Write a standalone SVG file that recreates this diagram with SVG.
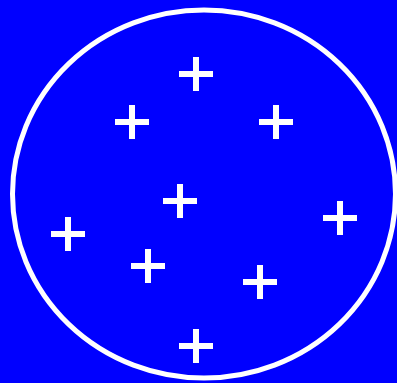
<svg xmlns="http://www.w3.org/2000/svg" width="397" height="383" viewBox="0 0 397 383">
<style>
.p{fill:none;stroke:#fff;stroke-width:6;stroke-linecap:butt}
</style>
<defs><path id="plus" class="p" d="M-17 0H17M0-17V17"/></defs>
<rect width="397" height="383" fill="#0000ff"/>
<ellipse cx="204" cy="194" rx="191.5" ry="184" fill="none" stroke="#fff" stroke-width="5"/>
<g id="crosses">
<use href="#plus" x="196" y="74"/>
<use href="#plus" x="132" y="122"/>
<use href="#plus" x="276" y="122"/>
<use href="#plus" x="180" y="201"/>
<use href="#plus" x="340" y="218"/>
<use href="#plus" x="68" y="234"/>
<use href="#plus" x="148" y="266"/>
<use href="#plus" x="260" y="282"/>
<use href="#plus" x="196" y="346"/>
</g>
</svg>
